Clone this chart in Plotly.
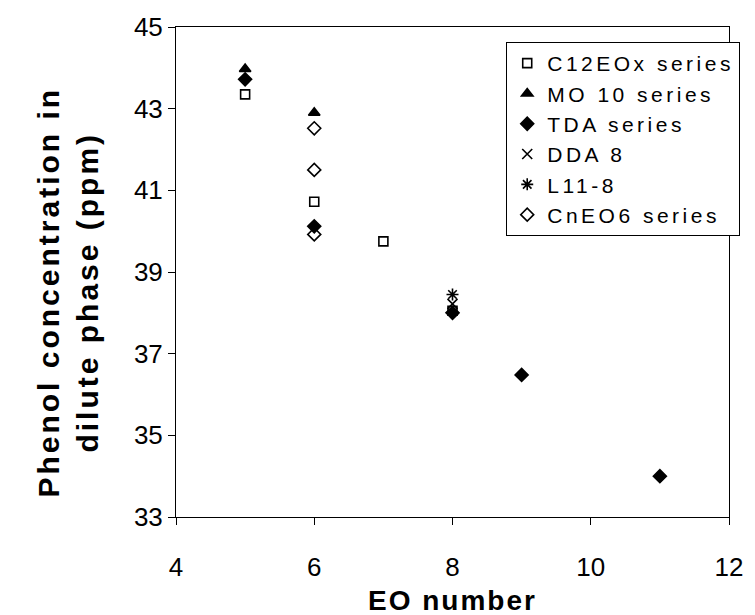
import plotly.graph_objects as go

# EO number (x) and phenol concentration in dilute phase, ppm (y) per surfactant series
c12eox_x = [5, 6, 7, 8]
c12eox_y = [43.35, 40.72, 39.75, 38.05]

mo10_x = [5, 6]
mo10_y = [43.97, 42.9]

tda_x = [5, 6, 8, 9, 11]
tda_y = [43.72, 40.12, 38.0, 36.48, 34.0]

dda8_x = [8]
dda8_y = [38.22]

l118_x = [8]
l118_y = [38.45]

cneo6_x = [6, 6, 6]
cneo6_y = [42.52, 41.5, 39.92]

series = [
    ("C12EOx series", c12eox_x, c12eox_y, "square-open", 9),
    ("MO 10 series", mo10_x, mo10_y, "triangle-up", 10),
    ("TDA series", tda_x, tda_y, "diamond", 10),
    ("DDA 8", dda8_x, dda8_y, "x-thin-open", 10),
    ("L11-8", l118_x, l118_y, "asterisk-open", 10),
    ("CnEO6 series", cneo6_x, cneo6_y, "diamond-open", 10),
]

x_title = "EO number"
y_title = ["Phenol concentration in", "dilute phase (ppm)"]


def spaced(text, px):
    return f'<span style="letter-spacing:{px}px">{text}</span>'


fig = go.Figure()
for i, (name, xs, ys, sym, size) in enumerate(series):
    fig.add_trace(go.Scatter(
        x=xs, y=ys, mode="markers", name=spaced(name, 3.5), legendgroup=f"g{i}",
        marker=dict(symbol=sym, size=size, color="black",
                    line=dict(color="black", width=1.6)),
    ))

font_family = "Liberation Sans, Arial, sans-serif"

W, H = 755, 615
ML, MR, MT, MB = 176, 18, 27, 98
plot_w, plot_h = W - ML - MR, H - MT - MB

fig.update_layout(
    width=W, height=H,
    margin=dict(l=ML, r=MR, t=MT, b=MB),
    paper_bgcolor="white", plot_bgcolor="white",
    font=dict(family=font_family, color="black", size=24),
    showlegend=True,
    legend=dict(
        x=(511 - ML) / plot_w, y=1 - (42 - MT) / plot_h,
        xanchor="left", yanchor="top",
        bordercolor="black", borderwidth=1, bgcolor="white",
        font=dict(size=21, family=font_family, color="black"),
        tracegroupgap=0, itemwidth=30,
    ),
    xaxis=dict(
        range=[4, 12], tickvals=[4, 6, 8, 10, 12],
        ticks="outside", ticklen=7, tickcolor="black",
        showline=True, linecolor="black", linewidth=1, mirror=True,
        showgrid=False, zeroline=False,
        tickfont=dict(size=26), ticklabelstandoff=20,
    ),
    yaxis=dict(
        range=[33, 45], tickvals=[33, 35, 37, 39, 41, 43, 45],
        ticks="outside", ticklen=7, tickcolor="black",
        showline=True, linecolor="black", linewidth=1, mirror=True,
        showgrid=False, zeroline=False,
        tickfont=dict(size=26),
    ),
    annotations=[
        dict(
            text="<b>" + spaced(x_title, 2) + "</b>",
            xref="paper", yref="paper",
            x=(456 - ML) / plot_w, y=-(600 - (H - MB)) / plot_h,
            xanchor="center", yanchor="middle", showarrow=False,
            font=dict(size=28, family=font_family, color="black"),
        ),
        dict(
            text="<b>" + "<br>".join(spaced(t, 3) for t in y_title) + "</b>",
            xref="paper", yref="paper",
            x=-(ML - 66) / plot_w, y=1 - (292 - MT) / plot_h,
            xanchor="center", yanchor="middle", showarrow=False,
            textangle=-90,
            font=dict(size=30, family=font_family, color="black"),
        ),
    ],
)

fig.write_html("out.html")
